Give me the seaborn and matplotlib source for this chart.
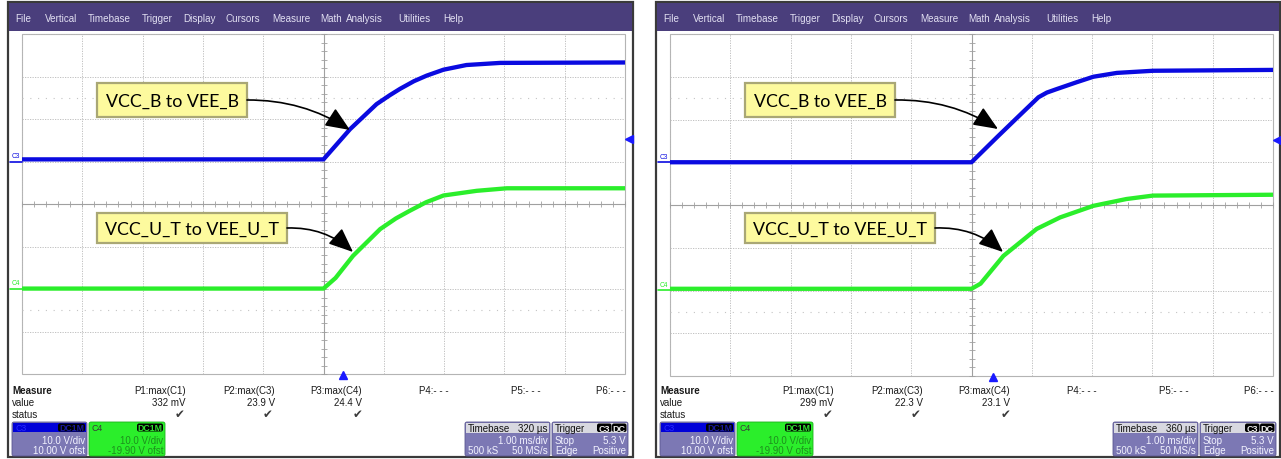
import numpy as np
import pandas as pd
import matplotlib
matplotlib.use("Agg")
import matplotlib.pyplot as plt
import seaborn as sns
from matplotlib.patches import Rectangle, FancyBboxPatch
from matplotlib.ticker import MultipleLocator

# ---------------- data ----------------
menu_items = ["File", "Vertical", "Timebase", "Trigger", "Display", "Cursors",
              "Measure", "Math", "Analysis", "Utilities", "Help"]

# traces: time across the 10 divisions (ms), volts
t_blue_1 = [0.0, 5.0, 5.44, 5.88, 6.10, 6.27, 6.50, 6.71, 6.99, 7.37, 7.93, 10.0]
v_blue_1 = [0.5, 0.5, 7.6, 13.5, 15.6, 17.1, 18.9, 20.2, 21.6, 22.7, 23.2, 23.3]
t_green_1 = [0.0, 5.0, 5.2, 5.49, 5.94, 6.20, 6.43, 6.70, 6.99, 7.54, 8.04, 10.0]
v_green_1 = [0.0, 0.0, 2.5, 7.7, 14.0, 16.5, 18.3, 20.3, 21.9, 23.0, 23.6, 23.6]

t_blue_2 = [0.0, 5.0, 5.44, 5.80, 6.11, 6.25, 6.41, 6.74, 7.02, 7.41, 8.01, 10.0]
v_blue_2 = [0.0, 0.0, 6.1, 11.0, 15.2, 16.3, 17.1, 18.7, 20.0, 20.9, 21.4, 21.6]
t_green_2 = [0.0, 5.0, 5.15, 5.53, 6.08, 6.47, 7.02, 7.57, 8.01, 10.0]
v_green_2 = [0.3, 0.3, 1.5, 8.0, 14.3, 17.0, 19.7, 21.3, 22.1, 22.3]

ann_labels = ["VCC_B to VEE_B", "VCC_U_T to VEE_U_T"]

meas_labels = ["P1:max(C1)", "P2:max(C3)", "P3:max(C4)", "P4:- - -", "P5:- - -", "P6:- - -"]
meas_values_1 = ["332 mV", "23.9 V", "24.4 V", "", "", ""]
meas_values_2 = ["299 mV", "22.3 V", "23.1 V", "", "", ""]
meas_status = ["\u2714", "\u2714", "\u2714", "", "", ""]

volts_per_div = 10.0
offset_c3 = 10.00
offset_c4 = -19.90
vdiv_text = "10.0 V/div"
ofst_texts = ["10.00 V ofst", "-19.90 V ofst"]
delay_us = [320, 360]
timebase_text = "1.00 ms/div"
samples_text = ["500 kS", "50 MS/s"]
trigger_level = 5.3
trigger_texts = ["Stop", "5.3 V", "Edge", "Positive"]

# ---------------- style / layout ----------------
sns.set_style("white")
plt.rcParams["font.family"] = ["Liberation Sans", "DejaVu Sans"]

W, H = 1281, 460
BLUE = "#0a0ae0"
GREEN = "#2bee2b"
MENU = "#4a3e7c"
BOX = "#7c78b4"
MENU_X = [15, 45, 88, 142, 183, 226, 272, 320, 346, 398, 443]
MEAS_R = [186, 275, 362, 449, 541, 626]
CHECK_X = [180, 268, 358]

fig = plt.figure(figsize=(12.81, 4.60), dpi=100)
fig.patch.set_facecolor("white")

bg = fig.add_axes([0, 0, 1, 1], zorder=0)
bg.set_xlim(0, W); bg.set_ylim(H, 0); bg.axis("off")
fg = fig.add_axes([0, 0, 1, 1], zorder=5)
fg.set_xlim(0, W); fg.set_ylim(H, 0); fg.axis("off")
fg.patch.set_alpha(0)

panels = [
    dict(ox=0, bottom=375, tb=t_blue_1, vb=v_blue_1, tg=t_green_1, vg=v_green_1,
         vals=meas_values_1, delay=delay_us[0], right=633),
    dict(ox=648, bottom=377, tb=t_blue_2, vb=v_blue_2, tg=t_green_2, vg=v_green_2,
         vals=meas_values_2, delay=delay_us[1], right=1280),
]


def pill(ax, x0, x1, y0, y1, text, tcolor, fs=6.3):
    ax.add_patch(FancyBboxPatch((x0, y0), x1 - x0, y1 - y0,
                                boxstyle="round,pad=0,rounding_size=2",
                                fc="black", ec="none"))
    ax.text((x0 + x1) / 2, (y0 + y1) / 2 + 0.5, text, ha="center", va="center",
            fontsize=fs, color=tcolor, fontweight="bold")


for i, p in enumerate(panels):
    ox = p["ox"]
    # outer frame
    bg.add_patch(Rectangle((8 + ox, 3), p["right"] - 8 - ox, 455,
                           fc="white", ec="#3a3a3a", lw=1.6))
    bg.add_patch(Rectangle((9 + ox, 4), p["right"] - 10 - ox, 28, fc=MENU, ec="none"))
    for name, mx in zip(menu_items, MENU_X):
        bg.text(mx + ox, 18.5, name, fontsize=7.1, color="#e2e0f2",
                ha="left", va="center")

    # ---- scope axes ----
    top, bot = 35, p["bottom"]
    ax = fig.add_axes([(22 + ox) / W, 1 - bot / H, 603 / W, (bot - top) / H], zorder=2)
    ax.set_facecolor("white")
    c3_zero = offset_c3 / volts_per_div
    c4_zero = offset_c4 / volts_per_div
    dfb = pd.DataFrame({"t": p["tb"], "div": (np.array(p["vb"]) + offset_c3) / volts_per_div})
    dfg = pd.DataFrame({"t": p["tg"], "div": (np.array(p["vg"]) + offset_c4) / volts_per_div})
    sns.lineplot(data=dfb, x="t", y="div", ax=ax, color=BLUE, lw=3.1,
                 legend=False, sort=False, estimator=None, zorder=4)
    sns.lineplot(data=dfg, x="t", y="div", ax=ax, color=GREEN, lw=3.1,
                 legend=False, sort=False, estimator=None, zorder=4)
    ax.set_xlim(0, 10); ax.set_ylim(-4, 4)
    ax.set_xlabel(""); ax.set_ylabel("")
    ax.xaxis.set_major_locator(MultipleLocator(1))
    ax.yaxis.set_major_locator(MultipleLocator(1))
    ax.xaxis.set_minor_locator(MultipleLocator(0.2))
    ax.yaxis.set_minor_locator(MultipleLocator(0.2))
    ax.grid(True, which="major", color="#b8b8b8", linestyle=(0, (1.5, 1.5)), lw=0.6)
    for y in (2.5, -2.5):
        ax.axhline(y, color="#c4c4c4", linestyle=(0, (1, 6)), lw=0.8, zorder=1)
    for s in ("top", "right"):
        ax.spines[s].set_visible(False)
    ax.spines["left"].set_position(("data", 5))
    ax.spines["bottom"].set_position(("data", 0))
    for s in ("left", "bottom"):
        ax.spines[s].set_color("#a0a0a0"); ax.spines[s].set_linewidth(0.8)
    ax.tick_params(which="both", direction="inout", length=4, width=0.6,
                   color="#a0a0a0", labelleft=False, labelbottom=False,
                   left=True, bottom=True)
    ax.add_patch(Rectangle((0, 0), 1, 1, transform=ax.transAxes, fill=False,
                           ec="#b4b4b4", lw=0.8, clip_on=False, zorder=0))
    # ground markers
    for lvl, lab, col in ((c3_zero, "C3", BLUE), (c4_zero, "C4", GREEN)):
        ax.text(-0.17, lvl + 0.06, lab, fontsize=4.8, color=col, ha="left",
                va="bottom", clip_on=False)
        ax.axhline(lvl, xmin=-0.02, xmax=0, color=col, lw=1.2, clip_on=False)
    # trigger markers
    ax.plot([5 + p["delay"] / 1000.0], [-4.02], marker="^", color="#1a1aff",
            ms=5.5, clip_on=False, zorder=6)
    ax.plot([10.06], [(trigger_level + offset_c3) / volts_per_div], marker="<",
            color="#1a1aff", ms=5.5, clip_on=False, zorder=6)

    # ---- measure table ----
    bg.text(12 + ox, 391, "Measure", fontsize=7, fontweight="bold",
            color="#1a1a1a", va="center")
    bg.text(12 + ox, 403, "value", fontsize=7, color="#1a1a1a", va="center")
    bg.text(12 + ox, 415, "status", fontsize=7, color="#1a1a1a", va="center")
    for j, (lab, val) in enumerate(zip(meas_labels, p["vals"])):
        bg.text(MEAS_R[j] + ox, 391, lab, fontsize=7, color="#1a1a1a",
                ha="right", va="center")
        if val:
            bg.text(MEAS_R[j] + ox, 403, val, fontsize=7, color="#1a1a1a",
                    ha="right", va="center")
        if meas_status[j]:
            bg.text(CHECK_X[j] + ox, 415, meas_status[j], fontsize=8.5,
                    color="#3a3a3a", ha="center", va="center")

    # ---- channel boxes ----
    # C3
    x0, x1 = 12 + ox, 87 + ox
    bg.add_patch(FancyBboxPatch((x0, 423), x1 - x0, 34, boxstyle="round,pad=0,rounding_size=2",
                                fc=BOX, ec="#5a5690", lw=0.6))
    bg.add_patch(Rectangle((x0 + 1, 424), x1 - x0 - 2, 9, fc="#0000d8", ec="none"))
    bg.text(x0 + 3, 428.5, "C3", fontsize=6.3, color="#2a2aff", va="center")
    pill(bg, x1 - 29, x1 - 2, 424.5, 432.5, "DC1M", "#1a1aa0")
    bg.text(x1 - 2, 441, vdiv_text, fontsize=7, color="#f2f2ff", ha="right", va="center")
    bg.text(x1 - 2, 451, ofst_texts[0], fontsize=7, color="#f2f2ff", ha="right", va="center")
    # C4
    x0, x1 = 89 + ox, 165 + ox
    bg.add_patch(FancyBboxPatch((x0, 423), x1 - x0, 34, boxstyle="round,pad=0,rounding_size=2",
                                fc=GREEN, ec="#1cb01c", lw=0.6))
    bg.text(x0 + 3, 428.5, "C4", fontsize=6.3, color="#3a3a3a", va="center")
    pill(bg, x1 - 28, x1 - 2, 424.5, 432.5, "DC1M", "#30e030")
    bg.text(x1 - 2, 441, vdiv_text, fontsize=7, color="#1d8f1d", ha="right", va="center")
    bg.text(x1 - 2, 451, ofst_texts[1], fontsize=7, color="#1d8f1d", ha="right", va="center")

    # Timebase box
    x0, x1 = 465 + ox, 550 + ox
    bg.add_patch(FancyBboxPatch((x0, 423), x1 - x0, 34, boxstyle="round,pad=0,rounding_size=2",
                                fc=BOX, ec="#5a5690", lw=0.6))
    bg.add_patch(Rectangle((x0 + 1, 424), x1 - x0 - 2, 10, fc="#d8d8e0", ec="none"))
    bg.text(x0 + 3, 429, "Timebase", fontsize=7, color="#111111", va="center")
    bg.text(x1 - 2, 429, f"{p['delay']} \u00b5s", fontsize=7, color="#111111",
            ha="right", va="center")
    bg.text(x1 - 2, 441, timebase_text, fontsize=7, color="#f2f2ff", ha="right", va="center")
    bg.text(x0 + 3, 451, samples_text[0], fontsize=7, color="#f2f2ff", va="center")
    bg.text(x1 - 2, 451, samples_text[1], fontsize=7, color="#f2f2ff", ha="right", va="center")

    # Trigger box
    x0, x1 = 552 + ox, 628 + ox
    bg.add_patch(FancyBboxPatch((x0, 423), x1 - x0, 34, boxstyle="round,pad=0,rounding_size=2",
                                fc=BOX, ec="#5a5690", lw=0.6))
    bg.add_patch(Rectangle((x0 + 1, 424), x1 - x0 - 2, 10, fc="#d8d8e0", ec="none"))
    bg.text(x0 + 3, 429, "Trigger", fontsize=7, color="#111111", va="center")
    pill(bg, x1 - 31, x1 - 16.5, 424.5, 433, "C3", "#e8e8e8", fs=6.5)
    pill(bg, x1 - 16, x1 - 1.5, 424.5, 433, "DC", "#e8e8e8", fs=6.5)
    bg.text(x0 + 3, 441, trigger_texts[0], fontsize=7, color="#f2f2ff", va="center")
    bg.text(x1 - 2, 441, trigger_texts[1], fontsize=7, color="#f2f2ff", ha="right", va="center")
    bg.text(x0 + 3, 451, trigger_texts[2], fontsize=7, color="#f2f2ff", va="center")
    bg.text(x1 - 2, 451, trigger_texts[3], fontsize=7, color="#f2f2ff", ha="right", va="center")

    # ---- annotation callouts ----
    boxes = [((97 + ox, 84), (247 + ox, 118)), ((97 + ox, 214), (287 + ox, 244))]
    tips = [(350 + ox, 131), (353 + ox, 253)] if i == 0 else [(998, 130), (1003, 253)]
    rads = [-0.15, -0.2]
    for (b0, b1), lab, tip, rad in zip(boxes, ann_labels, tips, rads):
        fg.add_patch(Rectangle(b0, b1[0] - b0[0], b1[1] - b0[1], fc="#fdfa9e",
                               ec="#a9a775", lw=1.6, zorder=5))
        fg.text((b0[0] + b1[0]) / 2, (b0[1] + b1[1]) / 2 + 0.5, lab, fontsize=12.8,
                family="Lato", color="black", ha="center", va="center", zorder=6)
        fg.annotate("", xy=tip, xytext=(b1[0], (b0[1] + b1[1]) / 2),
                    arrowprops=dict(arrowstyle="-|>,head_length=1.0,head_width=0.42",
                                    connectionstyle=f"arc3,rad={rad}", color="black",
                                    lw=1.2, shrinkA=0, shrinkB=0, mutation_scale=15),
                    zorder=6)

fig.savefig("out.png", dpi=100)
